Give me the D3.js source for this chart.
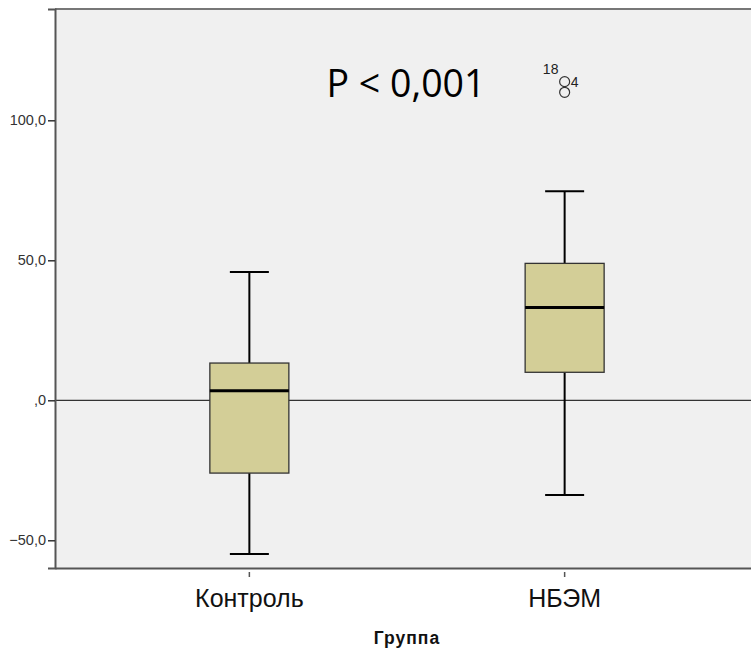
<!DOCTYPE html>
<meta charset="utf-8">
<script src="https://d3js.org/d3.v7.min.js"></script>
<head>
	<title>Boxplot - Группа</title>
	<style>
		body { margin: 0; background: #fff; }
		svg { display: block; }
		.narrow { font-family: "Liberation Sans Narrow", "Arial Narrow", "Liberation Sans", sans-serif; }
	</style>
</head>
<body>
	<div id="chart"></div>
	<script>
		// values
		var groups = ["Контроль", "НБЭМ"];
		var whiskerLow = [-54.9, -33.8];
		var q1 = [-26.0, 10.0];
		var median = [3.4, 33.1];
		var q3 = [13.3, 48.9];
		var whiskerHigh = [45.8, 74.7];
		// outliers: group index, value, case label
		var outliers = [
			{g: 1, v: 113.8, label: "18"},
			{g: 1, v: 110.0, label: "4"}
		];
		var yTicks = [-50, 0, 50, 100];

		var width = 751, height = 649;
		var plot = {left: 55, top: 9, right: 759, bottom: 568};

		var svg = d3.select("#chart").append("svg")
			.attr("width", width)
			.attr("height", height);

		var x = d3.scaleBand()
			.domain(groups)
			.range([plot.left, plot.right])
			.paddingInner(0.333)
			.paddingOuter(0.283);

		var y = d3.scaleLinear()
			.domain([-59.9, 139.75])
			.range([plot.bottom, plot.top]);

		// plot background
		svg.append("rect")
			.attr("x", plot.left).attr("y", plot.top)
			.attr("width", plot.right - plot.left)
			.attr("height", plot.bottom - plot.top)
			.attr("fill", "#f0f0f0")
			.attr("stroke", "none");

		// top border
		svg.append("line")
			.attr("x1", plot.left).attr("x2", plot.right)
			.attr("y1", plot.top).attr("y2", plot.top)
			.attr("stroke", "#777").attr("stroke-width", 2);

		// reference line at zero
		svg.append("line")
			.attr("x1", plot.left).attr("x2", plot.right)
			.attr("y1", y(0)).attr("y2", y(0))
			.attr("stroke", "#333").attr("stroke-width", 1.2);

		var boxW = 79, capW = 39;

		var g = svg.selectAll(".box")
			.data(groups)
			.enter().append("g")
			.attr("class", "box");

		function cx(d) { return x(d) + x.bandwidth() / 2; }

		// whisker stems
		g.append("line")
			.attr("x1", cx).attr("x2", cx)
			.attr("y1", (d, i) => y(whiskerHigh[i]))
			.attr("y2", (d, i) => y(q3[i]))
			.attr("stroke", "#000").attr("stroke-width", 2);
		g.append("line")
			.attr("x1", cx).attr("x2", cx)
			.attr("y1", (d, i) => y(q1[i]))
			.attr("y2", (d, i) => y(whiskerLow[i]))
			.attr("stroke", "#000").attr("stroke-width", 2);
		// caps
		[whiskerHigh, whiskerLow].forEach(function(arr) {
			g.append("line")
				.attr("x1", d => cx(d) - capW / 2).attr("x2", d => cx(d) + capW / 2)
				.attr("y1", (d, i) => y(arr[i])).attr("y2", (d, i) => y(arr[i]))
				.attr("stroke", "#000").attr("stroke-width", 2);
		});
		// boxes
		g.append("rect")
			.attr("x", d => cx(d) - boxW / 2)
			.attr("width", boxW)
			.attr("y", (d, i) => y(q3[i]))
			.attr("height", (d, i) => y(q1[i]) - y(q3[i]))
			.attr("fill", "#d3ce97")
			.attr("stroke", "#333").attr("stroke-width", 1.3);
		// median
		g.append("line")
			.attr("x1", d => cx(d) - boxW / 2).attr("x2", d => cx(d) + boxW / 2)
			.attr("y1", (d, i) => y(median[i])).attr("y2", (d, i) => y(median[i]))
			.attr("stroke", "#000").attr("stroke-width", 3);

		// outliers
		svg.selectAll(".outlier")
			.data(outliers)
			.enter().append("circle")
			.attr("class", "outlier")
			.attr("cx", d => cx(groups[d.g]))
			.attr("cy", d => y(d.v))
			.attr("r", 5)
			.attr("fill", "none")
			.attr("stroke", "#333").attr("stroke-width", 1.2);
		svg.append("text")
			.attr("x", cx(groups[1]) - 14).attr("y", y(outliers[0].v) - 8)
			.attr("text-anchor", "middle")
			.style("font-family", "Liberation Sans, Arial, sans-serif")
			.style("font-size", "14px").attr("fill", "#222")
			.text(outliers[0].label);
		svg.append("text")
			.attr("x", cx(groups[1]) + 10).attr("y", y(outliers[1].v) - 5)
			.attr("text-anchor", "middle")
			.style("font-family", "Liberation Sans, Arial, sans-serif")
			.style("font-size", "14px").attr("fill", "#222")
			.text(outliers[1].label);

		// y axis
		var yAxis = d3.axisLeft(y)
			.tickValues(yTicks)
			.tickSize(7)
			.tickPadding(2)
			.tickFormat(d => d === 0 ? ",0" : d3.format(".1f")(d).replace(".", ","));
		var ya = svg.append("g")
			.attr("transform", "translate(" + plot.left + ",0)")
			.call(yAxis);
		ya.select(".domain").attr("stroke", "#555").attr("stroke-width", 2);
		ya.selectAll(".tick line").attr("stroke", "#333").attr("stroke-width", 1.5);
		ya.selectAll(".tick text")
			.style("font-family", "Liberation Sans, Arial, sans-serif")
			.style("font-size", "14.5px").attr("fill", "#333");

		// x axis
		var xAxis = d3.axisBottom(x).tickSize(9).tickPadding(12).tickSizeOuter(0);
		var xa = svg.append("g")
			.attr("transform", "translate(0," + plot.bottom + ")")
			.call(xAxis);
		xa.select(".domain").attr("stroke", "#555").attr("stroke-width", 2);
		xa.selectAll(".tick line").attr("stroke", "#555").attr("stroke-width", 1.5)
			.attr("y1", 4);
		xa.selectAll(".tick text")
			.attr("class", "narrow")
			.style("font-size", "25px").attr("fill", "#111");

		// axis title
		svg.append("text")
			.attr("class", "narrow")
			.attr("x", (plot.left + plot.right) / 2)
			.attr("y", 644)
			.attr("text-anchor", "middle")
			.style("font-size", "17.5px").style("font-weight", "bold")
			.style("letter-spacing", "1px")
			.attr("fill", "#111")
			.text("Группа");

		// annotation
		svg.append("text")
			.attr("x", 406).attr("y", 97)
			.attr("text-anchor", "middle")
			.style("font-family", "Open Sans, Liberation Sans, sans-serif")
			.style("font-size", "37.5px").attr("fill", "#000")
			.text("P < 0,001");
	</script>
</body>
